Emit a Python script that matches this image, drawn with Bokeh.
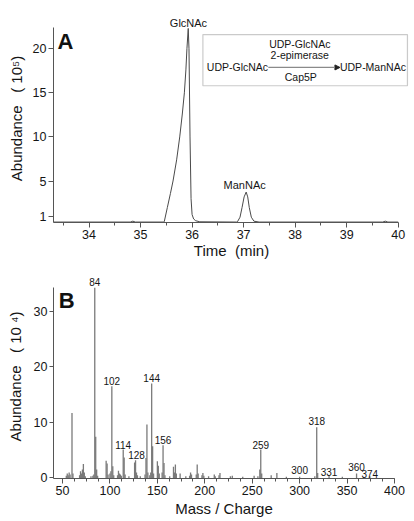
from bokeh.plotting import figure
from bokeh.layouts import column
from bokeh.models import (Label, BoxAnnotation, Arrow, NormalHead, FixedTicker,
                          Range1d, ColumnDataSource, LabelSet)
from bokeh.core.properties import value
from bokeh.embed import file_html
from bokeh.resources import INLINE

FONT = "Liberation Sans"
NB = "\u00a0"

# ---------------- Panel A: chromatogram ----------------
time_min = [33.31, 34.80, 34.85, 34.90, 35.44, 35.46, 35.52, 35.58, 35.63, 35.70,
            35.76, 35.81, 35.85, 35.88, 35.90, 35.925, 35.94, 35.96, 35.98, 36.00,
            36.03, 36.07, 36.15, 36.86, 36.88, 36.93, 36.97, 37.01, 37.05, 37.08,
            37.11, 37.15, 37.20, 37.30, 39.70, 39.75, 39.80, 40.00]
abundance_e5 = [0.35, 0.35, 0.45, 0.35, 0.35, 0.40, 2.0, 3.6, 5.0, 7.4,
                10.0, 12.6, 15.0, 17.6, 20.0, 22.3, 20.0, 10.0, 3.0, 1.2,
                0.7, 0.5, 0.38, 0.35, 0.38, 0.9, 2.0, 3.2, 3.75, 3.2,
                2.0, 0.9, 0.45, 0.35, 0.35, 0.45, 0.35, 0.35]
peak_names = ["GlcNAc", "ManNAc"]
peak_times = [35.93, 37.02]
peak_label_y = [22.93, 4.6]
a_yticks = [1, 5, 10, 15, 20]
a_xticks = [34, 35, 36, 37, 38, 39, 40]

# ---------------- Panel B: mass spectrum ----------------
mz = [54, 55, 56, 57, 58, 60, 61, 68, 69, 70, 71, 72, 73, 74, 80, 82, 83, 84, 85, 86,
      87, 96, 97, 98, 100, 101, 102, 103, 104, 108, 109, 110, 111, 112, 114, 115, 116,
      120, 126, 127, 128, 129, 132, 137, 138, 139, 140, 142, 143, 144, 145, 146, 150,
      151, 152, 155, 156, 157, 158, 163, 167, 168, 169, 170, 174, 180, 184, 185, 186,
      191, 192, 193, 197, 198, 199, 204, 210, 211, 215, 216, 227, 229, 240, 252, 256,
      258, 259, 260, 270, 276, 286, 300, 316, 318, 319, 331, 345, 360, 374]
abundance_e4 = [0.4, 0.8, 0.5, 1.0, 0.6, 11.7, 0.8, 0.5, 1.2, 0.8, 1.5, 2.5, 1.0, 0.3,
                0.3, 0.4, 0.6, 34.2, 7.4, 1.5, 0.4, 3.1, 2.6, 0.6, 0.8, 1.2, 16.5, 2.1,
                0.5, 0.5, 1.3, 0.8, 0.6, 0.4, 5.1, 3.7, 0.6, 0.3, 2.8, 3.2, 1.0, 0.5,
                0.3, 0.6, 3.6, 9.6, 1.0, 0.5, 1.0, 17.0, 5.7, 0.8, 3.0, 2.2, 0.8, 1.0,
                5.9, 2.7, 0.5, 0.3, 2.0, 1.0, 2.4, 0.8, 0.8, 0.3, 0.4, 1.0, 0.6, 0.6,
                2.4, 0.8, 0.5, 0.9, 0.4, 0.3, 0.6, 0.3, 0.5, 0.9, 0.3, 0.4, 0.2, 0.4,
                0.3, 1.5, 5.1, 0.8, 0.5, 0.9, 0.2, 0.2, 0.3, 9.1, 0.9, 0.4, 0.2, 0.8, 0.3]
labeled_mz = [84, 102, 114, 128, 144, 156, 259, 300, 318, 331, 360, 374]
labeled_y = [35.2, 17.4, 6.0, 4.1, 17.9, 6.8, 6.0, 1.5, 10.2, 1.1, 1.9, 0.7]
b_yticks = [0, 10, 20, 30]
b_xticks = [50, 100, 150, 200, 250, 300, 350, 400]

AXIS_COL = "#555555"
TXT_COL = "#151515"


def style_axes(p, tick_size="12.5px", title_size="15px"):
    for ax in (p.xaxis[0], p.yaxis[0]):
        ax.axis_line_color = AXIS_COL
        ax.major_tick_line_color = AXIS_COL
        ax.minor_tick_line_color = AXIS_COL
        ax.major_tick_in = 0
        ax.major_tick_out = 5
        ax.minor_tick_in = 0
        ax.minor_tick_out = 3
        ax.major_label_text_font = FONT
        ax.major_label_text_font_size = tick_size
        ax.major_label_text_color = TXT_COL
        ax.axis_label_text_font = FONT
        ax.axis_label_text_font_size = title_size
        ax.axis_label_text_font_style = "normal"
        ax.axis_label_text_color = TXT_COL
        ax.major_label_standoff = 2
    p.yaxis[0].minor_tick_line_color = None
    p.xgrid.grid_line_color = None
    p.ygrid.grid_line_color = None
    p.outline_line_color = None


# ---------------- figure A ----------------
# frame extends a little above / right of the drawn axes so labels and inset box are not clipped
pa = figure(frame_width=356, frame_height=208, output_backend="svg", toolbar_location=None,
            x_range=Range1d(33.31, 40.22), y_range=Range1d(0.3, 23.88),
            min_border_left=53, min_border_right=2, min_border_top=14, min_border_bottom=44)
pa.line(time_min, abundance_e5, line_color="#4a4a4a", line_width=1.0)
style_axes(pa)
pa.xaxis.bounds = (33.31, 40.0)
pa.yaxis.bounds = (0.3, 22.4)
pa.xaxis.ticker = FixedTicker(ticks=a_xticks,
                              minor_ticks=[t + 0.5 for t in [33] + a_xticks[:-1]])
pa.yaxis.ticker = FixedTicker(ticks=a_yticks)
pa.xaxis.axis_label = f"Time{NB}{NB}(min)"
pa.yaxis.axis_label = f"Abundance{NB}{NB}{NB}({NB}10⁵)"
pa.xaxis.axis_label_standoff = 0
pa.yaxis.axis_label_standoff = 5

for name, t, y in zip(peak_names, peak_times, peak_label_y):
    pa.add_layout(Label(x=t, y=y, text=name, text_align="center", text_baseline="middle",
                        text_font=FONT, text_font_size="11px", text_color=TXT_COL))
pa.add_layout(Label(x=33.39, y=22.2, text="A", text_align="left", text_baseline="top",
                    text_font=FONT, text_font_size="22px", text_font_style="bold",
                    text_color="#111111"))

# inset reaction scheme
pa.add_layout(BoxAnnotation(left=36.21, right=40.18, bottom=15.8, top=21.6,
                            fill_alpha=0, line_color="#505050", line_width=1.2))
inset = [("UDP-GlcNAc", 38.09, 20.5),
         ("2-epimerase", 38.09, 19.29),
         ("UDP-GlcNAc", 36.88, 17.97),
         ("UDP-ManNAc", 39.51, 17.93),
         ("Cap5P", 38.11, 16.8)]
for txt, x, y in inset:
    pa.add_layout(Label(x=x, y=y, text=txt, text_align="center", text_baseline="middle",
                        text_font=FONT, text_font_size="10.5px", text_color=TXT_COL))
pa.add_layout(Arrow(end=NormalHead(size=5, fill_color="#222222", line_color="#222222"),
                    x_start=37.48, y_start=17.88, x_end=38.87, y_end=17.88,
                    line_color="#8a8a8a", line_width=1.2))

# ---------------- figure B ----------------
pb = figure(frame_width=341, frame_height=204, output_backend="svg", toolbar_location=None,
            x_range=Range1d(40.5, 400.0), y_range=Range1d(-0.1, 36.6),
            min_border_left=53, min_border_right=18, min_border_top=8, min_border_bottom=38)
pb.segment(x0=mz, y0=[0] * len(mz), x1=mz, y1=abundance_e4,
           line_color="#7a7a7a", line_width=1.3)
style_axes(pb)
pb.yaxis.bounds = (-0.1, 34.3)
pb.xaxis.ticker = FixedTicker(ticks=b_xticks,
                              minor_ticks=[50 + 12.5 * i for i in range(29)])
pb.yaxis.ticker = FixedTicker(ticks=b_yticks)
pb.xaxis.axis_label = f"Mass{NB}/{NB}Charge"
pb.yaxis.axis_label = f"Abundance{NB}{NB}{NB}({NB}10{NB}⁴)"
pb.xaxis.axis_label_standoff = 2
pb.yaxis.axis_label_standoff = 7
pb.yaxis.major_tick_out = 4

lab_src = ColumnDataSource(dict(x=labeled_mz, y=labeled_y, t=[str(m) for m in labeled_mz]))
pb.add_layout(LabelSet(x="x", y="y", text="t", source=lab_src, text_align="center",
                       text_baseline="middle", text_font=value(FONT),
                       text_font_size=value("10px"), text_color=TXT_COL))
pb.add_layout(Label(x=46.0, y=34.2, text="B", text_align="left", text_baseline="top",
                    text_font=FONT, text_font_size="22px", text_font_style="bold",
                    text_color="#111111"))

layout = column(pa, pb, spacing=0)
open("out.html", "w").write(file_html(layout, INLINE))
